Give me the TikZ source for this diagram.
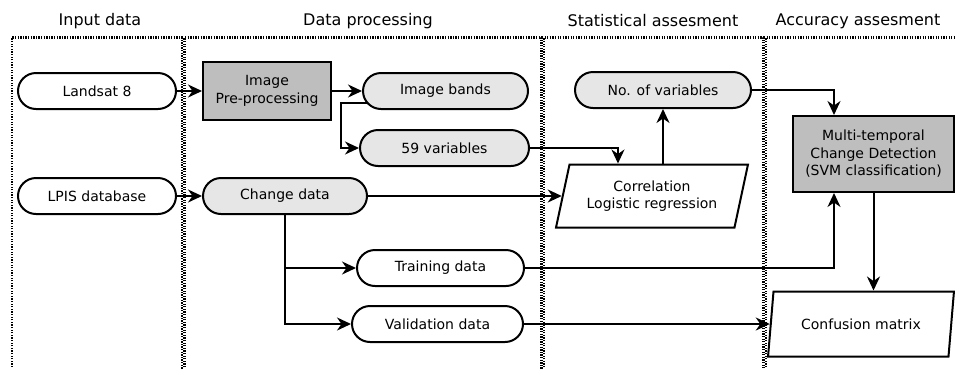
\documentclass[tikz,border=0pt]{standalone}
\usepackage{fontspec}
\setmainfont{DejaVu Sans}
\usetikzlibrary{shapes.misc,shapes.geometric,arrows.meta,calc}
\definecolor{darkfill}{RGB}{190,190,190}
\definecolor{lightfill}{RGB}{230,230,230}
\begin{document}
\begin{tikzpicture}[x=1pt,y=-1pt,
  font=\fontsize{14}{17.5}\selectfont,
  ln/.style={line width=2pt},
  arr/.style={ln,-{Stealth[length=14pt,width=13pt,inset=4.5pt]}},
  panel/.style={line width=2.3pt, dash pattern=on 1.3pt off 1.3pt},
  header/.style={font=\fontsize{16}{19}\selectfont},
  term/.style={rounded rectangle, draw, line width=2pt, minimum height=36pt, inner sep=0pt, align=center, fill=white},
  termg/.style={term, fill=lightfill},
  procbox/.style={rectangle, draw, line width=2pt, fill=darkfill, inner sep=0pt, align=center},
  iobox/.style={trapezium, trapezium left angle=71, trapezium right angle=109, trapezium stretches=true, draw, line width=2pt, inner sep=0pt, align=center, fill=white}
]
\useasboundingbox (0,0) rectangle (955,368);
% panels
\draw[panel] (12,375) -- (12,37.5) -- (182,37.5) -- (182,375);
\draw[panel] (184.5,375) -- (184.5,37.5) -- (541.5,37.5) -- (541.5,375);
\draw[panel] (544,375) -- (544,37.5) -- (763.5,37.5) -- (763.5,375);
\draw[panel] (766,375) -- (766,37.5) -- (960,37.5);
% headers
\node[header] (h1) at (100,21) {Input data};
\node[header] (h2) at (368,21) {Data processing};
\node[header] (h3) at (653,21) {Statistical assesment};
\node[header] (h4) at (858,21) {Accuracy assesment};
% nodes
\node[term, minimum width=158pt] (landsat) at (97,91) {Landsat 8};
\node[term, minimum width=158pt] (lpis) at (97,196) {LPIS database};
\node[procbox, minimum width=128pt, minimum height=58pt] (pre) at (267,91) {Image\\Pre-processing};
\node[termg, minimum width=165pt] (bands) at (445.5,91) {Image bands};
\node[termg, minimum width=169pt] (vars) at (444.5,148) {59 variables};
\node[termg, minimum width=164pt] (change) at (285,196) {Change data};
\node[term, minimum width=167pt] (train) at (440.5,268) {Training data};
\node[term, minimum width=171pt] (valid) at (437.5,324) {Validation data};
\node[termg, minimum width=176pt] (novars) at (663,90) {No. of variables};
\node[iobox, minimum width=192pt, minimum height=63pt] (corr) at (652,196) {Correlation\\Logistic regression};
\node[procbox, minimum width=161pt, minimum height=76pt] (multi) at (873.5,154) {Multi-temporal\\Change Detection\\(SVM classification)};
\node[iobox, minimum width=186pt, minimum height=65pt] (conf) at (861,324) {Confusion matrix};
% helper points on the parallelograms
\coordinate (corrtop) at ($(corr.top left corner)!0.5!(corr.top right corner)$);
\coordinate (corrleft) at ($(corr.top left corner)!0.5!(corr.bottom left corner)$);
\coordinate (conftop) at ($(conf.top left corner)!0.5!(conf.top right corner)$);
\coordinate (confleft) at ($(conf.top left corner)!0.5!(conf.bottom left corner)$);
% connectors
\draw[arr] (landsat.east) -- (pre.west);
\draw[arr] (lpis.east) -- (change.west);
\draw[arr] (pre.east) -- (bands.west);
\draw[arr] ($(bands.west)+(5,12)$) -| ($(vars.west)+(-18,0)$) -- (vars.west);
\draw[arr] (vars.east) -| ($(corrtop)+(-41,0)$);
\draw[arr] (novars.south |- corrtop) -- (novars.south);
\draw[arr] (novars.east) -| ($(multi.north)+(-39.5,0)$);
\draw[arr] (change.east) -- (change.east -| corrleft);
\draw[arr] (change.south) |- (train.west);
\draw[arr] (change.south) |- (valid.west);
\draw[arr] (train.east) -| ($(multi.south)+(-39.5,0)$);
\draw[arr] (multi.south) -- (multi.south |- conftop);
\draw[arr] (valid.east) -- (valid.east -| confleft);
\end{tikzpicture}
\end{document}
